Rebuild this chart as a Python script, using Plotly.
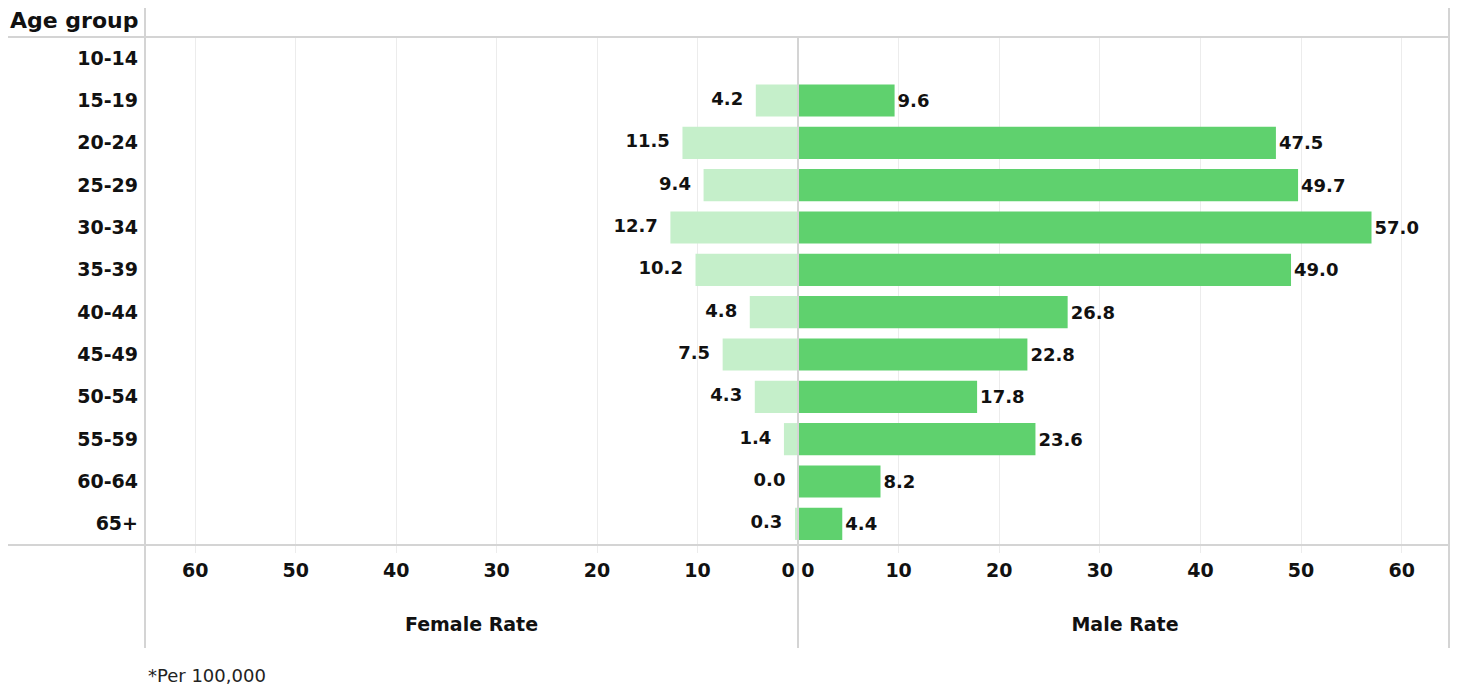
import plotly.graph_objects as go
from plotly.subplots import make_subplots

# Data (rate per 100,000)
age_groups = ["10-14", "15-19", "20-24", "25-29", "30-34", "35-39",
              "40-44", "45-49", "50-54", "55-59", "60-64", "65+"]
female_rate = [None, 4.2, 11.5, 9.4, 12.7, 10.2, 4.8, 7.5, 4.3, 1.4, 0.0, 0.3]
male_rate = [None, 9.6, 47.5, 49.7, 57.0, 49.0, 26.8, 22.8, 17.8, 23.6, 8.2, 4.4]
tick_vals = [0, 10, 20, 30, 40, 50, 60]

# page has an 8px body margin, so the figure is a bit smaller than the window
OFF = 8
W, H = 1450, 678
FONT = "DejaVu Sans, Verdana, sans-serif"
MALE_COLOR = "#5fd16e"
FEMALE_COLOR = "#c5efca"
GRID = "#ececec"
LINE = "#d4d4d4"


def px(x):
    return (x - OFF) / W


def py(y):
    return 1 - (y - OFF) / H


fig = make_subplots(rows=1, cols=2, shared_yaxes=True, horizontal_spacing=0)

fig.add_trace(go.Bar(
    y=age_groups, x=female_rate, orientation="h",
    marker=dict(color=FEMALE_COLOR, line=dict(width=0)),
    width=0.76,
    hoverinfo="skip", showlegend=False,
), row=1, col=1)

# female labels as a text layer so that the 0.0 value still gets its label
fig.add_trace(go.Scatter(
    y=age_groups, x=female_rate, mode="text",
    text=[f"{v:.1f}\u2002\u2009" if v is not None else "" for v in female_rate],
    textposition="middle left", cliponaxis=False,
    textfont=dict(family=FONT, size=18, color="#111111", weight="bold"),
    hoverinfo="skip", showlegend=False,
), row=1, col=1)

fig.add_trace(go.Bar(
    y=age_groups, x=male_rate, orientation="h",
    marker=dict(color=MALE_COLOR, line=dict(width=0)),
    width=0.76,
    texttemplate="%{x:.1f}",
    textposition="outside", cliponaxis=False,
    textfont=dict(family=FONT, size=18, color="#111111", weight="bold"),
    hoverinfo="skip", showlegend=False,
), row=1, col=2)

tick_font = dict(family=FONT, size=19, color="#111111", weight="bold")
title_font = dict(family=FONT, size=19, color="#111111", weight="bold")
y_domain = [py(545), py(37)]

x_common = dict(
    tickvals=tick_vals, tickfont=tick_font,
    ticks="outside", ticklen=7, tickwidth=1, tickcolor=GRID,
    ticklabelstandoff=1,
    showgrid=True, gridcolor=GRID, zeroline=False, showline=False,
    automargin=False, fixedrange=True,
)

fig.update_layout(
    width=W, height=H,
    margin=dict(l=0, r=0, t=0, b=0, autoexpand=False),
    paper_bgcolor="white", plot_bgcolor="white",
    xaxis=dict(
        domain=[px(145), px(798)], range=[65, 0],
        ticktext=[str(v) if v else "0\u00a0\u00a0\u00a0" for v in tick_vals],
        title=dict(text="Female Rate", font=title_font, standoff=37),
        **x_common,
    ),
    xaxis2=dict(
        domain=[px(798), px(1452)], range=[0, 65],
        ticktext=[str(v) if v else "\u00a0\u00a0\u00a00" for v in tick_vals],
        title=dict(text="Male Rate", font=title_font, standoff=37),
        **x_common,
    ),
    yaxis=dict(
        domain=y_domain,
        categoryorder="array", categoryarray=age_groups,
        range=[len(age_groups) - 0.5, -0.5],
        tickfont=dict(family=FONT, size=19, color="#111111", weight="bold"),
        ticklabelstandoff=6,
        showgrid=False, zeroline=False, showline=False,
        automargin=False, fixedrange=True,
    ),
    yaxis2=dict(domain=y_domain, showgrid=False, zeroline=False, showline=False,
                automargin=False, fixedrange=True),
)

# Frame lines around the table-like layout
frame = [
    (8, 37, 1449, 37),      # header rule
    (8, 545, 1449, 545),    # bottom rule
    (145, 8, 145, 648),     # left border
    (1449, 8, 1449, 648),   # right border
    (798, 37, 798, 648),    # centre divider
]
for x0, y0, x1, y1 in frame:
    fig.add_shape(type="line", xref="paper", yref="paper",
                  x0=px(x0), y0=py(y0), x1=px(x1), y1=py(y1),
                  line=dict(color=LINE, width=2), layer="above")

fig.add_annotation(
    text="<b>Age group</b>", xref="paper", yref="paper",
    x=px(8), y=py(21), xanchor="left", yanchor="middle", showarrow=False,
    font=dict(family=FONT, size=22, color="#111111"),
)
fig.add_annotation(
    text="*Per 100,000", xref="paper", yref="paper",
    x=px(146), y=py(675), xanchor="left", yanchor="middle", showarrow=False,
    font=dict(family=FONT, size=18, color="#222222"),
)

fig.write_html("out.html")
